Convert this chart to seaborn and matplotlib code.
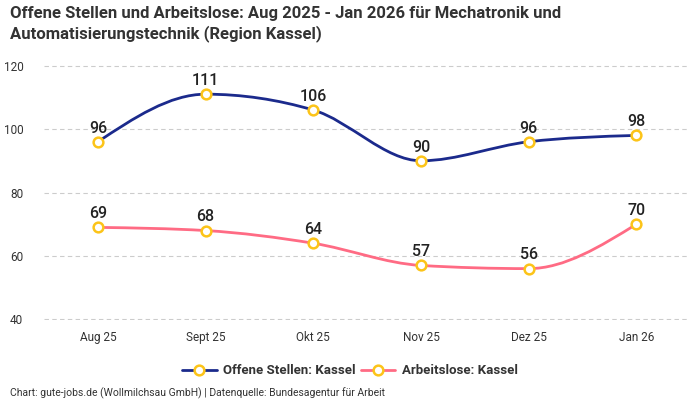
import numpy as np
import pandas as pd
import matplotlib
matplotlib.use("Agg")
import matplotlib.pyplot as plt
from matplotlib.path import Path
from matplotlib.patches import PathPatch
from matplotlib.lines import Line2D
import seaborn as sns

months = ["Aug 25", "Sept 25", "Okt 25", "Nov 25", "Dez 25", "Jan 26"]
offene = [96, 111, 106, 90, 96, 98]
arbeitslose = [69, 68, 64, 57, 56, 70]
series_names = ["Offene Stellen: Kassel", "Arbeitslose: Kassel"]
yticks = [40, 60, 80, 100, 120]

BLUE = "#1b2a8c"
PINK = "#ff6b84"
YELLOW = "#fcc419"

sns.set_theme(style="white")
plt.rcParams['font.family'] = ['Roboto', 'DejaVu Sans']

df = pd.DataFrame({
    "x": list(range(len(months))) * 2,
    "y": offene + arbeitslose,
    "series": [series_names[0]] * len(months) + [series_names[1]] * len(months),
})

fig = plt.figure(figsize=(7, 4), dpi=100)
ax = fig.add_axes([0.063, 0.2, 0.923, 0.6375])


def monotone_path(xs, ys):
    xs = np.asarray(xs, float)
    ys = np.asarray(ys, float)
    n = len(xs)
    h = np.diff(xs)
    s = np.diff(ys) / h
    t = np.zeros(n)
    for i in range(1, n - 1):
        p = (s[i - 1] * h[i] + s[i] * h[i - 1]) / (h[i - 1] + h[i])
        t[i] = (np.sign(s[i - 1]) + np.sign(s[i])) * min(abs(s[i - 1]), abs(s[i]), 0.5 * abs(p))
    t[0] = (3 * s[0] - t[1]) / 2
    t[-1] = (3 * s[-1] - t[-2]) / 2
    verts = [(xs[0], ys[0])]
    codes = [Path.MOVETO]
    for i in range(n - 1):
        d = h[i] / 3
        verts += [(xs[i] + d, ys[i] + t[i] * d), (xs[i + 1] - d, ys[i + 1] - t[i + 1] * d), (xs[i + 1], ys[i + 1])]
        codes += [Path.CURVE4] * 3
    return Path(verts, codes)


for vals, col in [(offene, BLUE), (arbeitslose, PINK)]:
    patch = PathPatch(monotone_path(range(len(vals)), vals), facecolor="none",
                      edgecolor=col, lw=2, zorder=3, clip_on=False)
    ax.add_patch(patch)

sns.lineplot(data=df, x="x", y="y", hue="series", palette=[BLUE, PINK],
             linestyle="none", marker="o", markersize=7, markerfacecolor="white",
             markeredgecolor=YELLOW, markeredgewidth=1.8, ax=ax, legend=False,
             zorder=4, clip_on=False)

for vals in [offene, arbeitslose]:
    for i, v in enumerate(vals):
        ax.annotate(str(v), (i, v), xytext=(0, 4.5), textcoords="offset points",
                    ha="center", va="bottom", fontsize=11.5, fontweight="medium",
                    color="#222222", zorder=5)

ax.set_xlim(-0.5, 5.5)
ax.set_ylim(39.8, 120.2)
ax.set_yticks(yticks)
ax.set_yticklabels([str(v) for v in yticks])
ax.set_xticks(range(len(months)))
ax.set_xticklabels(months)
ax.tick_params(axis="both", length=0, labelsize=8.5, colors="#333333")
ax.tick_params(axis="y", pad=15)
ax.tick_params(axis="x", pad=8)
ax.set_xlabel("")
ax.set_ylabel("")
ax.grid(axis="y", color="#cccccc", linestyle=(0, (4, 3)), lw=0.8)
for sp in ax.spines.values():
    sp.set_visible(False)

fig.text(0.014, 0.985, "Offene Stellen und Arbeitslose: Aug 2025 - Jan 2026 für Mechatronik und\nAutomatisierungstechnik (Region Kassel)",
         ha="left", va="top", fontsize=12, fontweight="bold", color="#333333", linespacing=1.3)

handles = [Line2D([], [], color=BLUE, lw=2, marker="o", markersize=7, markerfacecolor="white",
                  markeredgecolor=YELLOW, markeredgewidth=1.8),
           Line2D([], [], color=PINK, lw=2, marker="o", markersize=7, markerfacecolor="white",
                  markeredgecolor=YELLOW, markeredgewidth=1.8)]
leg = fig.legend(handles, series_names, loc="center", ncol=2,
                 frameon=False, fontsize=9.5, handlelength=2.6, columnspacing=0.4, handletextpad=0.5,
                 bbox_to_anchor=(0.5, 1 - 371 / 400), bbox_transform=fig.transFigure)
for t in leg.get_texts():
    t.set_fontweight("bold")
    t.set_color("#333333")

fig.text(0.014, 1 - 393 / 400, "Chart: gute-jobs.de (Wollmilchsau GmbH) | Datenquelle: Bundesagentur für Arbeit",
         ha="left", va="center", fontsize=7.5, color="#333333")

fig.savefig("out.png", dpi=100)
